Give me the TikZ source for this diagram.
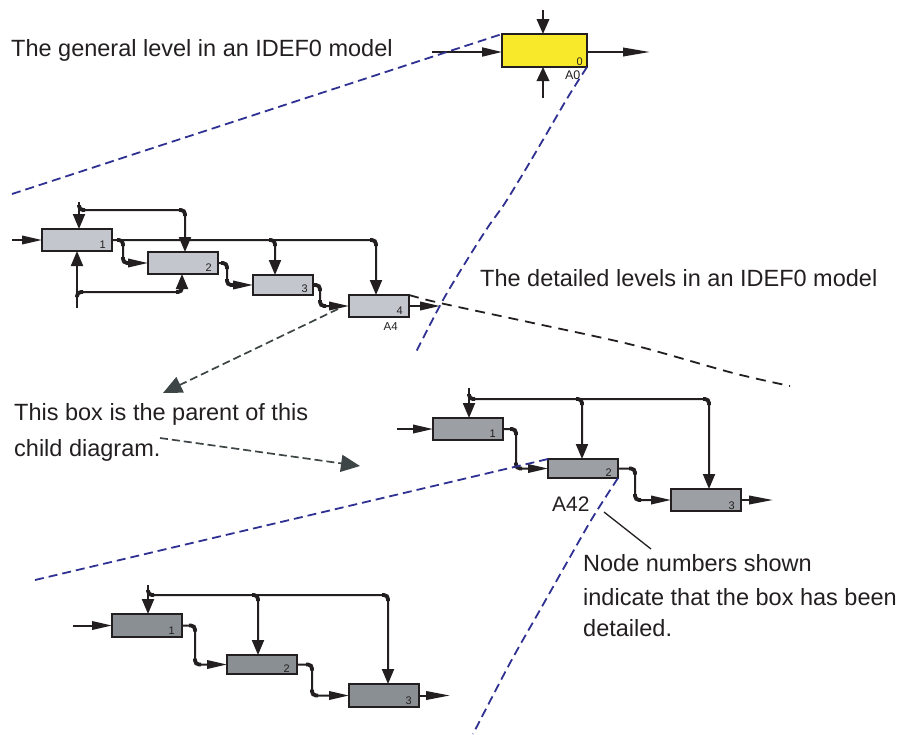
\documentclass[tikz,border=0pt]{standalone}
\usepackage{fontspec}
\setmainfont{Liberation Sans}
\usetikzlibrary{arrows.meta,calc}
\definecolor{ink}{HTML}{231F20}
\definecolor{navy}{HTML}{2E3192}
\definecolor{slate}{HTML}{3E4546}
\definecolor{topfill}{HTML}{F8E92B}
\definecolor{lvlA}{HTML}{C3C6CC}
\definecolor{lvlB}{HTML}{9CA0A4}
\definecolor{lvlC}{HTML}{8A8F93}
% thick blob drawn over a bend of a connector
\newcommand{\idhook}[3]{\draw[bendhook] ($(#1)+(#2)$) -- (#1) -- ($(#1)+(#3)$);}
\begin{document}
\begin{tikzpicture}[x=1pt,y=-1pt,
  actbox/.style={draw=ink, line width=2pt, anchor=north west, inner sep=0pt, outer sep=0pt},
  conn/.style={draw=ink, line width=2pt, rounded corners=4pt},
  harr/.style={conn, -{Triangle[length=20pt,width=8.5pt]}},
  harrl/.style={conn, -{Triangle[length=24pt,width=8.5pt]}},
  varr/.style={conn, -{Triangle[length=15pt,width=12pt]}},
  bendhook/.style={draw=ink, line width=3.8pt, rounded corners=4pt},
  num/.style={font=\fontsize{11}{12}\selectfont, text=ink, anchor=base east, inner sep=0pt},
  lbl/.style={font=\fontsize{23.5}{28}\selectfont, text=ink, anchor=base west, inner sep=0pt},
  dnavy/.style={draw=navy, line width=1.8pt, dash pattern=on 9pt off 5pt},
  dblack/.style={draw=ink, line width=1.8pt, dash pattern=on 10pt off 7pt},
  dslate/.style={draw=slate, line width=1.7pt, dash pattern=on 8pt off 4pt,
    -{Triangle[length=19pt,width=17pt]}}]
\useasboundingbox (0,0) rectangle (904,734);

% ---------------- general level: A0 ----------------
\node[actbox, fill=topfill, minimum width=85pt, minimum height=33pt] (a0) at (502,34) {};
\node[num] (a0n) at ($(a0.south east)+(-4,-2)$) {0};
\node[num, font=\fontsize{12.5}{13}\selectfont] (a0lbl) at (580.5,79) {A0};
\coordinate (a0in) at (432,52);
\coordinate (a0out) at (650,52);
\coordinate (a0ctl) at (543,10);
\coordinate (a0mech) at (543,98);
\draw[conn, -{Triangle[length=20pt,width=9pt]}] (a0in) -- (a0in -| a0.west);
\draw[conn, -{Triangle[length=27pt,width=8.5pt]}] (a0in -| a0.east) -- (a0out);
\draw[conn, -{Triangle[length=15pt,width=12.5pt]}] (a0ctl) -- (a0ctl |- a0.north);
\draw[conn, -{Triangle[length=14pt,width=12.5pt]}] (a0mech) -- (a0mech |- a0.south);

% ---------------- detailed level: A0 decomposition ----------------
\node[actbox, fill=lvlA, minimum width=70pt, minimum height=22pt] (b1) at (42,229) {};
\node[actbox, fill=lvlA, minimum width=70pt, minimum height=22pt] (b2) at (148,252) {};
\node[actbox, fill=lvlA, minimum width=60pt, minimum height=20pt] (b3) at (253,275) {};
\node[actbox, fill=lvlA, minimum width=60pt, minimum height=22pt] (b4) at (349,295) {};
\node[num] (b1n) at ($(b1.south east)+(-6,-3)$) {1};
\node[num] (b2n) at ($(b2.south east)+(-6,-3)$) {2};
\node[num] (b3n) at ($(b3.south east)+(-5,-3)$) {3};
\node[num] (b4n) at ($(b4.south east)+(-6,-3)$) {4};
\node[num, font=\fontsize{11.5}{12}\selectfont] (b4lbl) at (398,330.5) {A4};

\coordinate (b1in) at (12,240);
\coordinate (b1ctl) at (79,202);
\coordinate (b2ctl) at (185,210);
\coordinate (b1ctlj) at (b1ctl |- b2ctl);
\coordinate (b3ctl) at (275,240);
\coordinate (b4ctl) at (376,240);
\coordinate (b1b2) at (123,240);
\coordinate (b1b2l) at (b1b2 |- b2.west);
\coordinate (b2b3) at (227,263);
\coordinate (b2b3l) at (b2b3 |- b3.west);
\coordinate (b3b4) at (320,285);
\coordinate (b3b4l) at (b3b4 |- b4.west);
\coordinate (b4out) at (440,306);
\coordinate (b1mech) at (77,308);
\coordinate (b2mech) at (182,292);
\coordinate (b1mechj) at (b1mech |- b2mech);

\draw[harr] (b1in) -- (b1.west);
\draw[varr] (b1ctl) -- (b1ctl |- b1.north);
\draw[varr] (b1ctlj) -- (b2ctl) -- (b2ctl |- b2.north);
\draw[varr] (b1.east) -- (b4ctl) -- (b4ctl |- b4.north);
\draw[varr] ($(b3ctl)+(-6,0)$) -- (b3ctl) -- (b3ctl |- b3.north);
\draw[harr] ($(b1b2)+(-6,0)$) -- (b1b2) |- (b2.west);
\draw[harr] (b2.east) -- (b2b3) |- (b3.west);
\draw[harr] (b3.east) -- (b3b4) |- (b4.west);
\draw[harr] (b4.east) -- (b4out);
\draw[varr] (b1mech) -- (b1mech |- b1.south);
\draw[varr] (b1mechj) -- (b2mech) -- (b2mech |- b2.south);

\idhook{b1ctlj}{0,-5}{6,0}
\idhook{b2ctl}{-6,0}{0,6}
\idhook{b3ctl}{-6,0}{0,6}
\idhook{b4ctl}{-6,0}{0,6}
\idhook{b1b2}{-6,0}{0,6}
\idhook{b1b2l}{0,-6}{6,0}
\idhook{b2b3}{-6,0}{0,6}
\idhook{b2b3l}{0,-6}{6,0}
\idhook{b3b4}{-6,0}{0,6}
\idhook{b3b4l}{0,-6}{6,0}
\idhook{b1mechj}{0,5}{6,0}
\idhook{b2mech}{-6,0}{0,-6}

% ---------------- A4 decomposition ----------------
\node[actbox, fill=lvlB, minimum width=70pt, minimum height=22pt] (c1) at (433,418) {};
\node[actbox, fill=lvlB, minimum width=70pt, minimum height=19pt] (c2) at (548,459) {};
\node[actbox, fill=lvlB, minimum width=70pt, minimum height=22pt] (c3) at (671,489) {};
\node[num] (c1n) at ($(c1.south east)+(-7,-3)$) {1};
\node[num] (c2n) at ($(c2.south east)+(-6,-2)$) {2};
\node[num] (c3n) at ($(c3.south east)+(-6,-2)$) {3};
\node[lbl, font=\fontsize{21}{24}\selectfont] (c2lbl) at (552,511.7) {A42};

\coordinate (c1in) at (397,429);
\coordinate (c1ctl) at (469,388);
\coordinate (c3ctl) at (709,399);
\coordinate (c2ctl) at (582,399);
\coordinate (c1ctlj) at (c1ctl |- c3ctl);
\coordinate (c1c2) at (516,429);
\coordinate (c1c2l) at (c1c2 |- c2.west);
\coordinate (c2c3) at (635,468.5);
\coordinate (c2c3l) at (c2c3 |- c3.west);
\coordinate (c3out) at (773,500);

\draw[harr] (c1in) -- (c1.west);
\draw[varr] (c1ctl) -- (c1ctl |- c1.north);
\draw[varr] (c1ctlj) -- (c3ctl) -- (c3ctl |- c3.north);
\draw[varr] ($(c2ctl)+(-6,0)$) -- (c2ctl) -- (c2ctl |- c2.north);
\draw[harr] (c1.east) -- (c1c2) |- (c2.west);
\draw[harr] (c2.east) -- (c2c3) |- (c3.west);
\draw[harrl] (c3.east) -- (c3out);

\idhook{c1ctlj}{0,-5}{6,0}
\idhook{c2ctl}{-6,0}{0,6}
\idhook{c3ctl}{-6,0}{0,6}
\idhook{c1c2}{-6,0}{0,6}
\idhook{c1c2l}{0,-6}{6,0}
\idhook{c2c3}{-6,0}{0,6}
\idhook{c2c3l}{0,-6}{6,0}

% ---------------- A42 decomposition ----------------
\node[actbox, fill=lvlC, minimum width=70pt, minimum height=23pt] (d1) at (112,614) {};
\node[actbox, fill=lvlC, minimum width=70pt, minimum height=19pt] (d2) at (227,655) {};
\node[actbox, fill=lvlC, minimum width=70pt, minimum height=23pt] (d3) at (349,684) {};
\node[num] (d1n) at ($(d1.south east)+(-7,-3)$) {1};
\node[num] (d2n) at ($(d2.south east)+(-7,-2)$) {2};
\node[num] (d3n) at ($(d3.south east)+(-7,-3)$) {3};

\coordinate (d1in) at (73,625.5);
\coordinate (d1ctl) at (148,585);
\coordinate (d3ctl) at (388,595);
\coordinate (d2ctl) at (258,595);
\coordinate (d1ctlj) at (d1ctl |- d3ctl);
\coordinate (d1d2) at (195,625.5);
\coordinate (d1d2l) at (d1d2 |- d2.west);
\coordinate (d2d3) at (312,664.5);
\coordinate (d2d3l) at (d2d3 |- d3.west);
\coordinate (d3out) at (450,695.5);

\draw[harr] (d1in) -- (d1.west);
\draw[varr] (d1ctl) -- (d1ctl |- d1.north);
\draw[varr] (d1ctlj) -- (d3ctl) -- (d3ctl |- d3.north);
\draw[varr] ($(d2ctl)+(-6,0)$) -- (d2ctl) -- (d2ctl |- d2.north);
\draw[harr] (d1.east) -- (d1d2) |- (d2.west);
\draw[harr] (d2.east) -- (d2d3) |- (d3.west);
\draw[harrl] (d3.east) -- (d3out);

\idhook{d1ctlj}{0,-5}{6,0}
\idhook{d2ctl}{-6,0}{0,6}
\idhook{d3ctl}{-6,0}{0,6}
\idhook{d1d2}{-6,0}{0,6}
\idhook{d1d2l}{0,-6}{6,0}
\idhook{d2d3}{-6,0}{0,6}
\idhook{d2d3l}{0,-6}{6,0}

% ---------------- level boundaries ----------------
\coordinate (n1s) at (12,194);
\draw[dnavy] (n1s) -- (a0.north west);
\draw[dnavy] plot[smooth] coordinates {(a0.south east) (568,97) (547,133) (527,167) (505,203) (488,227) (467,260) (443,300) (416,352)};
\coordinate (n3s) at (35,580);
\draw[dnavy] (n3s) -- (c2.north west);
\draw[dnavy] plot[smooth] coordinates {(c2.south east) (593,517) (570,557) (540,610) (510,663) (473,734)};
\draw[dblack] plot[smooth] coordinates {(b4.north east) (440,303) (533,323) (633,345) (733,373) (790,386)};

% ---------------- captions ----------------
\node[lbl] (t1) at (11,56.7) {The general level in an IDEF0 model};
\node[lbl] (t2) at (480,286.7) {The detailed levels in an IDEF0 model};
\node[lbl] (t3) at (14,420) {This box is the parent of this};
\node[lbl] (t4) at (14,456.7) {child diagram.};
\node[lbl] (t5) at (583,571.7) {Node numbers shown};
\node[lbl] (t6) at (583,605) {indicate that the box has been};
\node[lbl] (t7) at (583,636.7) {detailed.};

% ---------------- pointers ----------------
\coordinate (p1s) at (338,309);
\coordinate (p1e) at (163,393);
\draw[dslate] (p1s) -- (p1e);
\coordinate (p2s) at (160,438);
\coordinate (p2e) at (360,466);
\draw[dslate] (p2s) -- (p2e);
\coordinate (p3s) at (604,512);
\coordinate (p3e) at (651,549);
\draw[draw=ink, line width=1.3pt] (p3s) -- (p3e);
\end{tikzpicture}
\end{document}
